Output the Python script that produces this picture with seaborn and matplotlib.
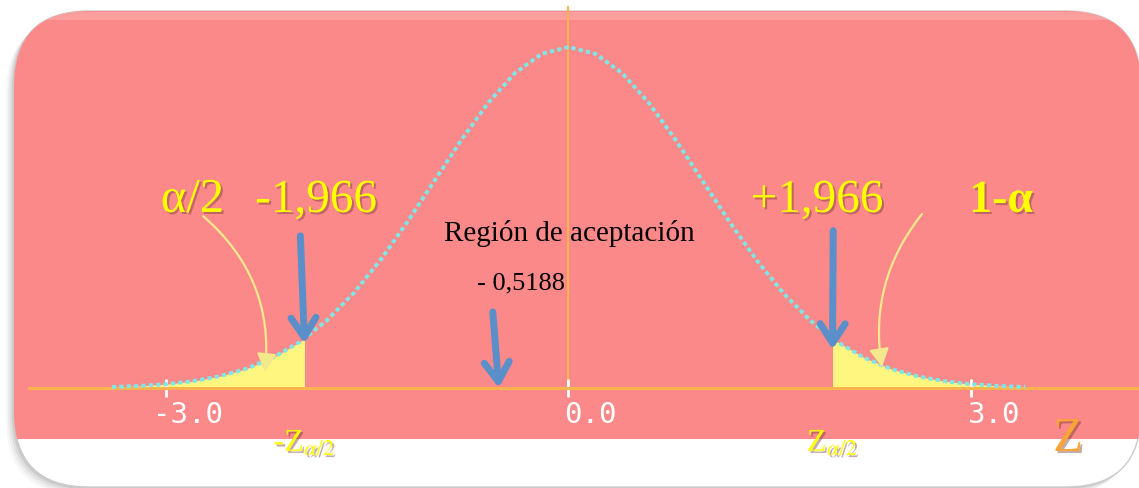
import matplotlib
matplotlib.use("Agg")
import matplotlib.pyplot as plt
import matplotlib.patheffects as pe
import matplotlib.transforms as mtrans
from matplotlib.patches import FancyBboxPatch, Rectangle
import seaborn as sns

# standard normal curve (z, density)
z_vals = [-3.4, -3.2, -3.0, -2.8, -2.6, -2.4, -2.2, -2.0, -1.8, -1.6, -1.4, -1.2,
          -1.0, -0.8, -0.6, -0.4, -0.2, 0.0, 0.2, 0.4, 0.6, 0.8, 1.0, 1.2,
          1.4, 1.6, 1.8, 2.0, 2.2, 2.4, 2.6, 2.8, 3.0, 3.2, 3.4]
dens = [0.0012, 0.0024, 0.0044, 0.0079, 0.0136, 0.0224, 0.0355, 0.0540, 0.0790, 0.1109, 0.1497, 0.1942,
        0.2420, 0.2897, 0.3332, 0.3683, 0.3910, 0.3989, 0.3910, 0.3683, 0.3332, 0.2897, 0.2420, 0.1942,
        0.1497, 0.1109, 0.0790, 0.0540, 0.0355, 0.0224, 0.0136, 0.0079, 0.0044, 0.0024, 0.0012]

# rejection tails (yellow)
left_tail_z = [-3.4, -3.2, -3.0, -2.8, -2.6, -2.4, -2.2, -2.0, -1.966]
left_tail_d = [0.0012, 0.0024, 0.0044, 0.0079, 0.0136, 0.0224, 0.0355, 0.0540, 0.0577]
right_tail_z = [1.966, 2.0, 2.2, 2.4, 2.6, 2.8, 3.0, 3.2, 3.4]
right_tail_d = [0.0577, 0.0540, 0.0355, 0.0224, 0.0136, 0.0079, 0.0044, 0.0024, 0.0012]

crit = 1.966
z_obs = -0.5188
tick_vals = [-3.0, 0.0, 3.0]
tick_labels = ['-3.0', '0.0', '3.0']

pink = '#FB8989'
orange = '#FDB44E'
cyan = '#7FE6E6'
yellow = '#FFFF00'
tail_yellow = '#FFF680'
blue = '#5B8FC9'
pale = '#F3E98C'
serif = 'Liberation Serif'
plt.rcParams['mathtext.fontset'] = 'stix'

fig = plt.figure(figsize=(11.39, 4.89), dpi=100)

# background card in pixel coordinates
bg = fig.add_axes([0, 0, 1, 1])
bg.set_xlim(0, 1139)
bg.set_ylim(489, 0)
bg.axis('off')
box = 'round,pad=0,rounding_size=75'
for off, a in [(8, 0.04), (6, 0.06), (4, 0.08), (2, 0.12)]:
    bg.add_patch(FancyBboxPatch((14 - off, 12 + off), 1127, 476, boxstyle=box,
                                fc='#404040', ec='none', alpha=a))
bg.add_patch(FancyBboxPatch((14, 12), 1127, 476, boxstyle=box, fc='white', ec='#cccccc', lw=1))
pk = FancyBboxPatch((14, 12), 1127, 476, boxstyle=box, fc=pink, ec='none')
bg.add_patch(pk)
pk.set_clip_path(Rectangle((0, 0), 1139, 440, transform=bg.transData))
gloss = Rectangle((14, 13), 1127, 8, fc='white', ec='none', alpha=0.18)
bg.add_patch(gloss)
gloss.set_clip_path(pk)

# data axes
ax = fig.add_axes([0, 0, 1, 1])
ax.patch.set_alpha(0)
ax.set_xlim(-4.233, 4.248)
ax.set_ylim(-0.117, 0.4551)

ax.fill_between(left_tail_z, left_tail_d, color=tail_yellow, lw=0, zorder=1)
ax.fill_between(right_tail_z, right_tail_d, color=tail_yellow, lw=0, zorder=1)
ax.axvline(0, ymin=100 / 489, ymax=481 / 489, color=orange, lw=1.5, zorder=1.5)
sns.lineplot(x=z_vals, y=dens, ax=ax, color=cyan, lw=2.8, linestyle=(0, (1.1, 0.8)),
             estimator=None, zorder=3)

for s in ['top', 'left', 'right']:
    ax.spines[s].set_visible(False)
ax.spines['bottom'].set_position(('data', 0))
ax.spines['bottom'].set_color(orange)
ax.spines['bottom'].set_linewidth(2.2)
ax.spines['bottom'].set_bounds(-4.02, 4.25)
ax.set_yticks([])
ax.set_xticks(tick_vals, tick_labels)
ax.tick_params(axis='x', direction='inout', length=13, width=2, color='white', pad=2,
               labelsize=21, labelcolor='white')
# the labels in the picture sit a little to the right of their ticks
shift = mtrans.ScaledTranslation(22 / 100, 0, fig.dpi_scale_trans)
for t in ax.get_xticklabels():
    t.set_fontfamily('DejaVu Sans Mono')
    t.set_transform(t.get_transform() + shift)
ax.set_xlabel('')
ax.set_ylabel('')

shadow = [pe.withSimplePatchShadow(offset=(1.5, -1.5), shadow_rgbFace='#6b2e2e', alpha=0.4)]

ax.text(-2.80, 0.206, 'α/2', color=yellow, fontsize=35, family=serif, ha='center', va='baseline', path_effects=shadow)
ax.text(-1.88, 0.206, '-1,966', color=yellow, fontsize=34, family=serif, ha='center', va='baseline', path_effects=shadow)
ax.text(1.85, 0.206, '+1,966', color=yellow, fontsize=34, family=serif, ha='center', va='baseline', path_effects=shadow)
ax.text(3.22, 0.206, '1-α', color=yellow, fontsize=33, family=serif, weight='bold', ha='center', va='baseline', path_effects=shadow)
ax.text(0.005, 0.173, 'Región de aceptación', color='black', fontsize=21, family=serif, ha='center', va='baseline')
ax.text(-0.354, 0.117, '- 0,5188', color='black', fontsize=19, family=serif, ha='center', va='baseline')

ax.text(-crit, -0.0737, r'-Z$_{\alpha/2}$', color=yellow, fontsize=23, family=serif, ha='center', va='baseline', path_effects=shadow)
ax.text(crit, -0.0737, r'Z$_{\alpha/2}$', color=yellow, fontsize=23, family=serif, ha='center', va='baseline', path_effects=shadow)
ax.text(3.72, -0.0737, 'Z', color='#F7A535', fontsize=35, family=serif, ha='center', va='baseline', path_effects=shadow)

# blue arrows
blue_style = dict(arrowstyle='->,head_length=0.7,head_width=0.45', lw=5, color=blue,
                  shrinkA=0, shrinkB=0, mutation_scale=20)
ax.annotate('', xy=(-crit, 0.052), xytext=(-crit - 0.03, 0.178), arrowprops=blue_style)
ax.annotate('', xy=(crit, 0.045), xytext=(crit + 0.005, 0.184), arrowprops=blue_style)
ax.annotate('', xy=(z_obs, 0.0), xytext=(z_obs - 0.045, 0.089), arrowprops=blue_style)

# pale curved arrows
ax.annotate('', xy=(-2.26, 0.019), xytext=(-2.72, 0.201),
            arrowprops=dict(arrowstyle='-|>,head_length=0.55,head_width=0.3', lw=1.6, color=pale,
                            connectionstyle='arc3,rad=-0.26', shrinkA=0, shrinkB=0, mutation_scale=20))
ax.annotate('', xy=(2.334, 0.0246), xytext=(2.632, 0.2036),
            arrowprops=dict(arrowstyle='-|>,head_length=0.55,head_width=0.3', lw=1.6, color=pale,
                            connectionstyle='arc3,rad=0.22', shrinkA=0, shrinkB=0, mutation_scale=20))

fig.savefig('out.png', dpi=100, facecolor='white')
